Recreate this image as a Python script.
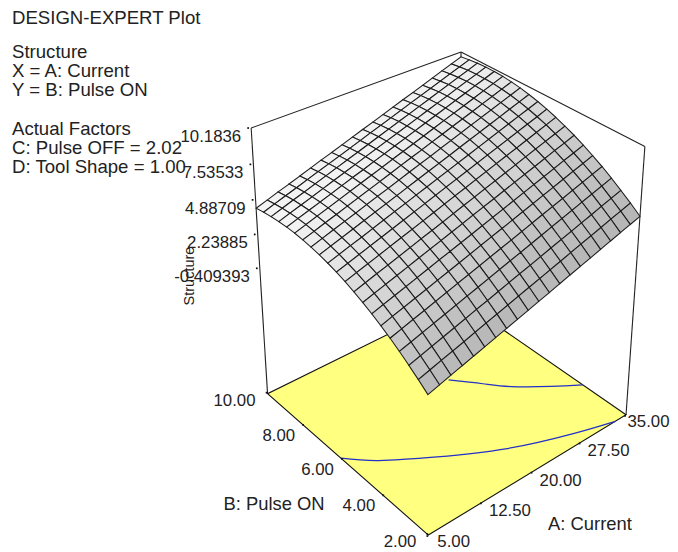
import numpy as np, pandas as pd, altair as alt

# --- values ---
A_TICKS = [5.0, 12.5, 20.0, 27.5, 35.0]
A_LABELS = ["5.00", "12.50", "20.00", "27.50", "35.00"]
B_TICKS = [2.0, 4.0, 6.0, 8.0, 10.0]
B_LABELS = ["2.00", "4.00", "6.00", "8.00", "10.00"]
Z_TICKS = [10.1836, 7.53533, 4.88709, 2.23885, -0.409393]
Z_LABELS = ["10.1836", "7.53533", "4.88709", "2.23885", "-0.409393"]
Z_FLOOR = -10.8
NOTES = ["Structure", "X = A: Current", "Y = B: Pulse ON",
         "Actual Factors", "C: Pulse OFF = 2.02", "D: Tool Shape = 1.00"]
NOTE_Y = [52, 71, 90, 129, 148, 167]
CONTOUR_A1 = [5.0, 8.0, 13.4, 20.2, 27.7, 33.2]
CONTOUR_B1 = [6.1, 5.3, 4.3, 3.25, 2.45, 2.0]
CONTOUR_A2 = [23.2, 25.9, 28.2, 31.85, 35.0]
CONTOUR_B2 = [6.85, 6.0, 5.3, 4.5, 3.9]
# Structure on the drawn 21 x 21 mesh: one row per Current step, one column per Pulse ON step
Z = [
 [-0.05,0.50,1.01,1.50,1.95,2.35,2.73,3.07,3.37,3.64,3.87,4.07,4.23,4.36,4.45,4.51,4.53,4.51,4.46,4.37,4.25],
 [0.21,0.76,1.27,1.76,2.21,2.62,3.00,3.34,3.64,3.91,4.14,4.34,4.50,4.63,4.72,4.79,4.81,4.79,4.74,4.65,4.53],
 [0.47,1.02,1.53,2.03,2.48,2.88,3.26,3.60,3.91,4.18,4.41,4.61,4.77,4.91,5.00,5.06,5.08,5.06,5.02,4.93,4.81],
 [0.72,1.27,1.79,2.28,2.73,3.14,3.52,3.86,4.16,4.44,4.67,4.87,5.04,5.17,5.26,5.33,5.35,5.33,5.28,5.20,5.08],
 [0.98,1.53,2.05,2.54,3.00,3.40,3.78,4.13,4.43,4.71,4.94,5.14,5.31,5.44,5.54,5.60,5.62,5.61,5.56,5.48,5.36],
 [1.24,1.80,2.31,2.81,3.26,3.67,4.05,4.40,4.70,4.98,5.21,5.42,5.58,5.72,5.81,5.88,5.90,5.89,5.84,5.76,5.64],
 [1.50,2.06,2.57,3.07,3.52,3.93,4.32,4.66,4.97,5.24,5.48,5.69,5.85,5.99,6.08,6.15,6.18,6.16,6.12,6.03,5.92],
 [1.75,2.31,2.82,3.32,3.78,4.19,4.57,4.92,5.23,5.50,5.74,5.95,6.11,6.25,6.35,6.42,6.44,6.43,6.39,6.30,6.19],
 [2.01,2.57,3.09,3.58,4.04,4.45,4.84,5.19,5.49,5.77,6.01,6.22,6.39,6.52,6.62,6.69,6.72,6.71,6.66,6.58,6.47],
 [2.27,2.83,3.35,3.85,4.31,4.72,5.10,5.45,5.76,6.04,6.28,6.49,6.66,6.80,6.90,6.97,6.99,6.98,6.94,6.86,6.75],
 [2.53,3.09,3.61,4.11,4.57,4.98,5.37,5.72,6.03,6.31,6.55,6.76,6.93,7.07,7.17,7.24,7.27,7.26,7.22,7.14,7.03],
 [2.78,3.34,3.86,4.36,4.82,5.24,5.63,5.98,6.29,6.57,6.81,7.02,7.19,7.33,7.43,7.51,7.54,7.53,7.49,7.41,7.30],
 [3.04,3.60,4.12,4.63,5.09,5.50,5.89,6.24,6.56,6.84,7.08,7.29,7.46,7.61,7.71,7.78,7.81,7.80,7.77,7.69,7.58],
 [3.30,3.86,4.39,4.89,5.35,5.77,6.16,6.51,6.82,7.11,7.35,7.56,7.74,7.88,7.98,8.06,8.09,8.08,8.04,7.97,7.86],
 [3.56,4.12,4.65,5.15,5.62,6.03,6.42,6.78,7.09,7.38,7.62,7.83,8.01,8.15,8.26,8.33,8.36,8.36,8.32,8.25,8.14],
 [3.81,4.38,4.90,5.41,5.87,6.29,6.68,7.04,7.35,7.64,7.88,8.10,8.27,8.42,8.52,8.60,8.63,8.63,8.59,8.52,8.41],
 [4.07,4.64,5.16,5.67,6.13,6.55,6.95,7.30,7.62,7.90,8.15,8.37,8.54,8.69,8.79,8.87,8.91,8.90,8.87,8.79,8.69],
 [4.33,4.90,5.42,5.93,6.40,6.82,7.21,7.57,7.89,8.17,8.42,8.64,8.81,8.96,9.07,9.15,9.18,9.18,9.15,9.07,8.97],
 [4.59,5.16,5.69,6.19,6.66,7.08,7.48,7.84,8.15,8.44,8.69,8.91,9.09,9.23,9.34,9.42,9.46,9.46,9.42,9.35,9.25],
 [4.84,5.41,5.94,6.45,6.92,7.34,7.73,8.09,8.41,8.70,8.95,9.17,9.35,9.50,9.61,9.69,9.72,9.72,9.69,9.62,9.52],
 [5.10,5.67,6.20,6.71,7.18,7.60,8.00,8.36,8.68,8.97,9.22,9.44,9.62,9.77,9.88,9.96,10.00,10.00,9.97,9.90,9.80],
]
Agrid = np.linspace(5, 35, 21); Bgrid = np.linspace(2, 10, 21)

# --- camera: perspective matrix calibrated on the drawn box corners (weighted) and axis ticks ---
zt = Z_TICKS[0]
cal = [((5,2,Z_FLOOR),(428,535),4),((35,2,Z_FLOOR),(627,414),4),((5,10,Z_FLOOR),(268,394),4),((35,10,Z_FLOOR),(457,300),2),
       ((5,10,zt),(251,128),4),((35,10,zt),(461,52),4),((35,2,zt),(645,147),4),
       ((12.5,2,Z_FLOOR),(476,504),1),((20,2,Z_FLOOR),(526,474),1),((27.5,2,Z_FLOOR),(576,443),1),
       ((5,4,Z_FLOOR),(387,499),1),((5,6,Z_FLOOR),(345,461),1),((5,8,Z_FLOOR),(306,427),1),
       ((5,10,Z_TICKS[1]),(254,162),1),((5,10,Z_TICKS[2]),(256,197),1),((5,10,Z_TICKS[3]),(258,231),1),((5,10,Z_TICKS[4]),(260,266),1)]
rows=[];rhs=[]
for (a,b,c),(px,py),w in cal:
    rows.append([w*t for t in [a,b,c,1,0,0,0,0,-px*a,-px*b,-px*c]]);rhs.append(w*px)
    rows.append([w*t for t in [0,0,0,0,a,b,c,1,-py*a,-py*b,-py*c]]);rhs.append(w*py)
m=np.linalg.lstsq(np.array(rows,float),np.array(rhs,float),rcond=None)[0]
M=np.append(m,1).reshape(3,4)
def P(a,b,c):
    v=M@np.array([a,b,c,1.0]);return float(v[0]/v[2]),float(v[1]/v[2])

def poly(pts,fill):
    pts=[list(p) for p in pts]; pts.append(pts[0])
    return {"type":"Feature","geometry":{"type":"Polygon","coordinates":[pts]},"properties":{"fill":fill}}

cells=[]
for j in range(19,-1,-1):
    for i in range(19,-1,-1):
        s=max(0.0,(Z[i][j+1]-Z[i][j]+Z[i+1][j+1]-Z[i+1][j])*10)
        g=int(np.clip(244-3*s-.2*s*s-12*(i/20)*4*(j/20)*(1-j/20),170,244))
        cells.append(poly([P(Agrid[i],Bgrid[j],Z[i][j]),P(Agrid[i+1],Bgrid[j],Z[i+1][j]),
                           P(Agrid[i+1],Bgrid[j+1],Z[i+1][j+1]),P(Agrid[i],Bgrid[j+1],Z[i][j+1])],f"#{g:02x}{g:02x}{g:02x}"))
floor=[poly([P(5,2,Z_FLOOR),P(35,2,Z_FLOOR),P(35,10,Z_FLOOR),P(5,10,Z_FLOOR)],"#ffff80")]

XS=alt.Scale(domain=[8,670],range=[0,662]); YS=alt.Scale(domain=[8,552],range=[0,544])
X=lambda f="x":alt.X(f"{f}:Q",scale=XS,axis=None); Y=lambda f="y":alt.Y(f"{f}:Q",scale=YS,axis=None)
proj=dict(type="identity",scale=1,translate=[-8,-8])

def shape(vals,**kw):
    return alt.Chart(alt.Data(values=vals)).mark_geoshape(**kw).encode(fill=alt.Fill("properties.fill:N",scale=None)).project(**proj)

seg=[]
for p,q in [((5,10,Z_FLOOR),(5,10,zt)),((35,10,Z_FLOOR),(35,10,zt)),((35,2,Z_FLOOR),(35,2,zt)),((5,10,zt),(35,10,zt)),((35,10,zt),(35,2,zt))]:
    a=P(*p);b=P(*q);seg.append(dict(x=a[0],y=a[1],x2=b[0],y2=b[1]))
box=alt.Chart(pd.DataFrame(seg)).mark_rule(color="#222222",strokeWidth=1.1).encode(x=X(),y=Y(),x2="x2:Q",y2="y2:Q")

cont=[]
for n,(aa,bb) in enumerate([(CONTOUR_A1,CONTOUR_B1),(CONTOUR_A2,CONTOUR_B2)]):
    for k,(a,b) in enumerate(zip(aa,bb)):
        x,y=P(a,b,Z_FLOOR);cont.append(dict(id=n,k=k,x=x,y=y))
contour=alt.Chart(pd.DataFrame(cont)).mark_line(color="#2430c8",strokeWidth=1.2,interpolate="natural").encode(x=X(),y=Y(),detail="id:N",order="k:Q")

ticks=[];labs=[]
for a,l in zip(A_TICKS,A_LABELS):
    x,y=P(a,2,Z_FLOOR);inner=5<a<35
    ticks.append(dict(x=x-1,y=y+1));labs.append(dict(x=x+(1.5 if a==35 else 7 if inner else 9),y=y+(9 if inner else 7),t=l,al="left"))
for b,l in zip(B_TICKS,B_LABELS):
    x,y=P(5,b,Z_FLOOR);inner=2<b<10
    ticks.append(dict(x=x-1,y=y-1));labs.append(dict(x=x-(9 if inner else 12),y=y+(10 if inner else 7),t=l,al="right"))
for z,l in zip(Z_TICKS,Z_LABELS):
    x,y=P(5,10,z);ticks.append(dict(x=x-3,y=y));labs.append(dict(x=x-10,y=y+9,t=l,al="right"))
tick=alt.Chart(pd.DataFrame(ticks)).mark_square(color="#111111",size=3,opacity=1).encode(x=X(),y=Y())
FONT="Liberation Sans"
ld=pd.DataFrame(labs)
lab_r=alt.Chart(ld[ld.al=="right"]).mark_text(font=FONT,fontSize=16.8,color="#222222",align="right",baseline="middle").encode(x=X(),y=Y(),text="t:N")
lab_l=alt.Chart(ld[ld.al=="left"]).mark_text(font=FONT,fontSize=16.8,color="#222222",align="left",baseline="middle").encode(x=X(),y=Y(),text="t:N")
notes=alt.Chart(pd.DataFrame(dict(t=NOTES,y=NOTE_Y,x=[12]*len(NOTES)))).mark_text(font=FONT,fontSize=18.6,color="#222222",align="left",baseline="middle").encode(x=X(),y=Y(),text="t:N")
def title(t,x,y,**kw):
    return alt.Chart(pd.DataFrame(dict(t=[t],x=[x],y=[y]))).mark_text(font=FONT,color="#222222",baseline="middle",**kw).encode(x=X(),y=Y(),text="t:N")
tTop=title("DESIGN-EXPERT Plot",12,18,fontSize=18.6,align="left")
tA=title("A: Current",590,524,fontSize=18.4,align="center")
tB=title("B: Pulse ON",274,504,fontSize=18.4,align="center")
tZ=title("Structure",190,276,fontSize=14.5,align="center",angle=270)

chart=alt.layer(box,shape(floor,stroke="#111111",strokeWidth=1.1),contour,
                shape(cells,stroke="#1c1c1c",strokeWidth=1.05),tick,lab_r,lab_l,notes,tTop,tA,tB,tZ
     ).properties(width=662,height=544,padding=0,autosize="none",background="white").configure_view(stroke=None)
chart.save("out.html",embed_options={"renderer":"svg","actions":False})
